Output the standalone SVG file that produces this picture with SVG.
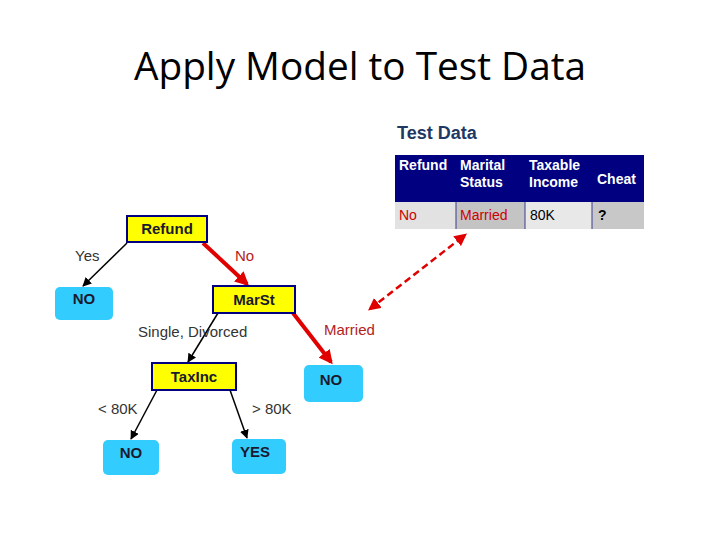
<svg xmlns="http://www.w3.org/2000/svg" width="720" height="540" viewBox="0 0 720 540">
<style>
.dec{fill:#ffff00;stroke:#000080;stroke-width:2}
.leaf{fill:#33ccff;stroke:none}
.nt{font-family:"Liberation Sans",Arial,sans-serif;font-size:15px;font-weight:bold;fill:#1a1a2e;text-anchor:middle}
.lbl{font-family:"Liberation Sans",Arial,sans-serif;font-size:15px;fill:#333}
.red{fill:#b22222}
.th{font-family:"Liberation Sans",Arial,sans-serif;font-size:14px;font-weight:bold;fill:#fff}
.td{font-family:"Liberation Sans",Arial,sans-serif;font-size:14px}
.blk{stroke:#000;stroke-width:1.5;fill:none}
.rd{stroke:#e00000;stroke-width:4;fill:none}
</style>
<defs>
<marker id="ab" viewBox="0 0 10 10" refX="9" refY="5" markerWidth="6" markerHeight="6" orient="auto"><path d="M0,0 L10,5 L0,10 Z" fill="#000"/></marker>
<marker id="ar" viewBox="0 0 10 10" refX="8" refY="5" markerWidth="3.5" markerHeight="3.5" orient="auto"><path d="M0,0 L10,5 L0,10 Z" fill="#e00000"/></marker>
<marker id="ad" viewBox="0 0 10 10" refX="8" refY="5" markerWidth="5" markerHeight="5" orient="auto-start-reverse"><path d="M0,0 L10,5 L0,10 Z" fill="#e00000"/></marker>
</defs>
<rect width="720" height="540" fill="#fff"/>
<text x="360" y="80" font-family="'Open Sans','Liberation Sans',sans-serif" font-size="38" fill="#000" text-anchor="middle" textLength="452" lengthAdjust="spacingAndGlyphs">Apply Model to Test Data</text>
<text x="397" y="139" font-family="'Liberation Sans',Arial,sans-serif" font-size="18" font-weight="bold" fill="#1f3864">Test Data</text>
<g id="table">
<rect x="395" y="155" width="249" height="47" fill="#000080"/>
<rect x="395" y="202" width="61" height="27" fill="#e2e2e2"/>
<rect x="456" y="202" width="69" height="27" fill="#c4c4c4"/>
<rect x="525" y="202" width="67" height="27" fill="#e8e8e8"/>
<rect x="592" y="202" width="52" height="27" fill="#c8c8c8"/>
<path d="M456,202V229M525,202V229M592,202V229" stroke="#3a3a8a" stroke-width="1"/>
<text class="th" x="399" y="170">Refund</text>
<text class="th" x="460" y="170">Marital</text>
<text class="th" x="460" y="187">Status</text>
<text class="th" x="529" y="170">Taxable</text>
<text class="th" x="529" y="187">Income</text>
<text class="th" x="597" y="184">Cheat</text>
<text class="td" x="399" y="220" fill="#cc0000">No</text>
<text class="td" x="460" y="220" fill="#cc0000">Married</text>
<text class="td" x="530" y="220" fill="#000">80K</text>
<text class="td" x="598" y="220" fill="#000" font-weight="bold">?</text>
</g>
<g id="connectors">
<line class="blk" x1="127" y1="243" x2="83" y2="286" marker-end="url(#ab)"/>
<line class="rd" x1="203" y1="243" x2="247" y2="284" marker-end="url(#ar)"/>
<line class="blk" x1="218" y1="313" x2="188" y2="362" marker-end="url(#ab)"/>
<line class="rd" x1="293" y1="313" x2="331" y2="362" marker-end="url(#ar)"/>
<line class="blk" x1="157" y1="390" x2="131" y2="439" marker-end="url(#ab)"/>
<line class="blk" x1="230" y1="390" x2="247" y2="438" marker-end="url(#ab)"/>
<line x1="370" y1="309" x2="465" y2="235" stroke="#e00000" stroke-width="2.5" stroke-dasharray="7,4" marker-start="url(#ad)" marker-end="url(#ad)"/>
</g>
<text class="lbl" x="75" y="261">Yes</text>
<text class="lbl red" x="235" y="261">No</text>
<text class="lbl" x="138" y="337">Single, Divorced</text>
<text class="lbl red" x="324" y="335">Married</text>
<text class="lbl" x="98" y="414">&lt; 80K</text>
<text class="lbl" x="252" y="414">&gt; 80K</text>
<g id="refund"><rect class="dec" x="127" y="216" width="80" height="26"/><text class="nt" x="167" y="234">Refund</text></g>
<g id="no1"><rect class="leaf" x="55" y="287" width="58" height="33" rx="5"/><text class="nt" x="84" y="304">NO</text></g>
<g id="marst"><rect class="dec" x="213" y="286" width="82" height="27"/><text class="nt" x="254" y="305">MarSt</text></g>
<g id="taxinc"><rect class="dec" x="152" y="363" width="84" height="27"/><text class="nt" x="194" y="382">TaxInc</text></g>
<g id="no2"><rect class="leaf" x="304" y="365" width="59" height="37" rx="5"/><text class="nt" x="331" y="385">NO</text></g>
<g id="no3"><rect class="leaf" x="103" y="440" width="56" height="35" rx="5"/><text class="nt" x="131" y="458">NO</text></g>
<g id="yes"><rect class="leaf" x="232" y="439" width="54" height="35" rx="5"/><text class="nt" x="255" y="457">YES</text></g>
</svg>
